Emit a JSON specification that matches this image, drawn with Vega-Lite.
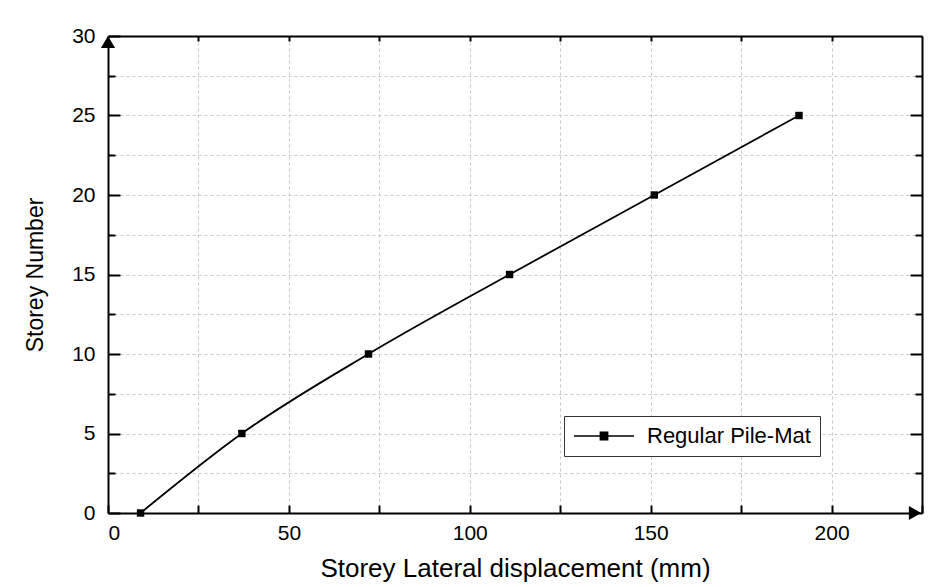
{
  "$schema": "https://vega.github.io/schema/vega-lite/v6.json",
  "width": 814,
  "height": 477,
  "autosize": {"type": "none"},
  "padding": {"left": 108, "top": 36, "right": 18, "bottom": 74},
  "background": "white",
  "config": {
    "view": {"stroke": null},
    "font": "Liberation Sans",
    "axis": {
      "domainColor": "black",
      "domainWidth": 2,
      "tickColor": "black",
      "tickWidth": 2,
      "labelColor": "black",
      "labelFont": "Liberation Sans",
      "labelFontSize": 21,
      "titleFont": "Liberation Sans",
      "titleFontWeight": "normal",
      "titleColor": "black",
      "gridColor": "#c8c8c8",
      "gridDash": [3, 3],
      "gridWidth": 1
    }
  },
  "layer": [
    {
      "data": {"values": [
        {"disp": 9, "storey": 0, "series": "Regular Pile-Mat"},
        {"disp": 37, "storey": 5, "series": "Regular Pile-Mat"},
        {"disp": 72, "storey": 10, "series": "Regular Pile-Mat"},
        {"disp": 111, "storey": 15, "series": "Regular Pile-Mat"},
        {"disp": 151, "storey": 20, "series": "Regular Pile-Mat"},
        {"disp": 191, "storey": 25, "series": "Regular Pile-Mat"}
      ]},
      "mark": {"type": "line", "interpolate": "monotone", "strokeWidth": 1.8},
      "encoding": {
        "x": {
          "field": "disp", "type": "quantitative",
          "scale": {"domain": [0, 225], "nice": false, "zero": false},
          "axis": {
            "orient": "bottom",
            "values": [0, 25, 50, 75, 100, 125, 150, 175, 200, 225],
            "labelExpr": "datum.value % 50 === 0 ? datum.label : ''",
            "tickSize": -8,
            "labelPadding": 17,
            "grid": true,
            "title": "Storey Lateral displacement (mm)",
            "titleFontSize": 26,
            "titlePadding": 12
          }
        },
        "y": {
          "field": "storey", "type": "quantitative",
          "scale": {"domain": [0, 30], "nice": false, "zero": false},
          "axis": {
            "orient": "left",
            "values": [0, 2.5, 5, 7.5, 10, 12.5, 15, 17.5, 20, 22.5, 25, 27.5, 30],
            "labelExpr": "datum.value % 5 === 0 ? datum.label : ''",
            "tickSize": {"condition": {"test": "datum.value % 5 === 0", "value": -12}, "value": -7},
            "labelPadding": 25,
            "grid": true,
            "title": "Storey Number",
            "titleFontSize": 23,
            "titlePadding": 24
          }
        },
        "color": {
          "field": "series", "type": "nominal",
          "scale": {"range": ["black"]},
          "legend": {
            "title": null,
            "orient": "none",
            "legendX": 456,
            "legendY": 380,
            "strokeColor": "#333333",
            "fillColor": "white",
            "padding": 9,
            "symbolType": "M-3,0H3M-0.36,-0.36H0.36V0.36H-0.36Z",
            "symbolSize": 400,
            "symbolOffset": 20,
            "symbolStrokeWidth": 1.6,
            "symbolStrokeColor": "black",
            "symbolFillColor": "black",
            "labelFont": "Liberation Sans",
            "labelFontSize": 22,
            "labelColor": "black",
            "labelLimit": 400,
            "labelOffset": 32,
            "encode": {"symbols": {"update": {"fill": {"value": "black"}, "stroke": {"value": "black"}, "opacity": {"value": 1}}}}
          }
        }
      }
    },
    {
      "data": {"values": [
        {"disp": 9, "storey": 0},
        {"disp": 37, "storey": 5},
        {"disp": 72, "storey": 10},
        {"disp": 111, "storey": 15},
        {"disp": 151, "storey": 20},
        {"disp": 191, "storey": 25}
      ]},
      "mark": {"type": "square", "size": 55, "color": "black", "filled": true, "opacity": 1},
      "encoding": {
        "x": {"field": "disp", "type": "quantitative", "axis": null},
        "y": {"field": "storey", "type": "quantitative", "axis": null}
      }
    },
    {
      "data": {"values": [{"disp": 0, "storey": 30}]},
      "mark": {"type": "point", "shape": "triangle-up", "size": 200, "color": "black", "filled": true, "opacity": 1, "yOffset": 6},
      "encoding": {
        "x": {
          "field": "disp", "type": "quantitative",
          "axis": {
            "orient": "top",
            "values": [25, 50, 75, 100, 125, 150, 175, 200],
            "labels": false,
            "tickSize": -5,
            "grid": false,
            "title": null
          }
        },
        "y": {
          "field": "storey", "type": "quantitative",
          "axis": {
            "orient": "right",
            "values": [2.5, 5, 7.5, 10, 12.5, 15, 17.5, 20, 22.5, 25, 27.5],
            "labels": false,
            "tickSize": {"condition": {"test": "datum.value % 5 === 0", "value": -12}, "value": -7},
            "grid": false,
            "title": null
          }
        }
      }
    },
    {
      "data": {"values": [{"disp": 225, "storey": 0}]},
      "mark": {"type": "point", "shape": "triangle-right", "size": 200, "color": "black", "filled": true, "opacity": 1, "xOffset": -7},
      "encoding": {
        "x": {"field": "disp", "type": "quantitative", "axis": null},
        "y": {"field": "storey", "type": "quantitative", "axis": null}
      }
    }
  ],
  "resolve": {"axis": {"x": "independent", "y": "independent"}}
}
